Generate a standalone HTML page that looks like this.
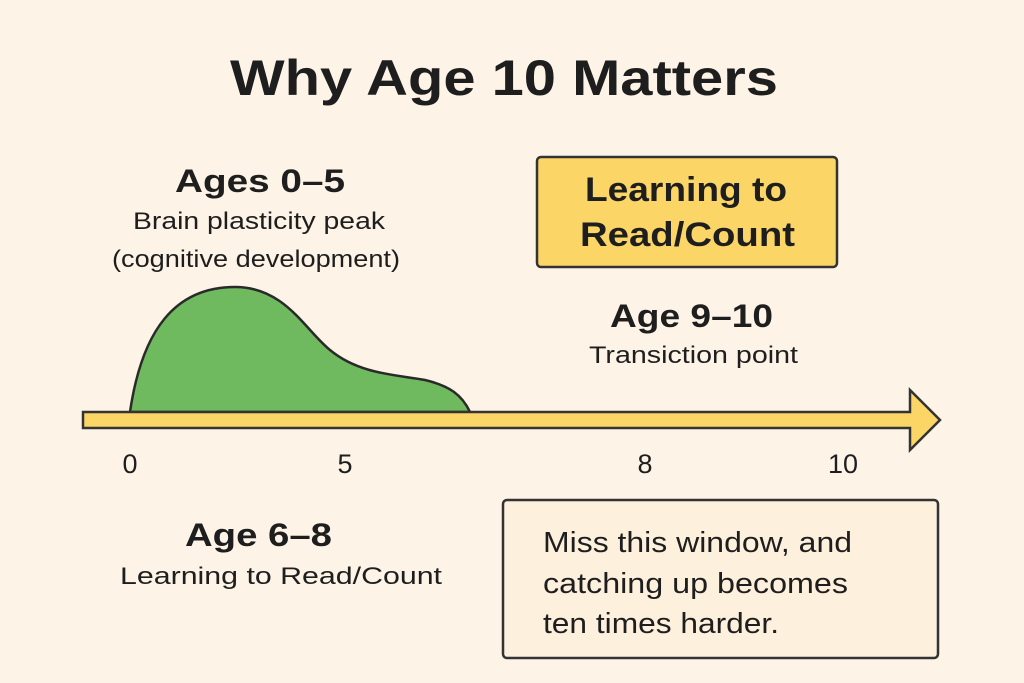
<!DOCTYPE html>
<html><head><meta charset="utf-8"><style>
html,body{margin:0;padding:0;background:#fdf4e7;}
svg{display:block;}
text{font-family:"Liberation Sans",sans-serif;fill:#1e1e1e;}
.b{font-weight:bold;}
</style></head><body>
<svg width="1024" height="683" viewBox="0 0 1024 683" xmlns="http://www.w3.org/2000/svg">
<rect width="1024" height="683" fill="#fdf4e7"/>
<text x="230" y="95" class="b" font-size="50" textLength="548" lengthAdjust="spacingAndGlyphs">Why Age 10 Matters</text>
<text x="175" y="192" class="b" font-size="32" textLength="170" lengthAdjust="spacingAndGlyphs">Ages 0–5</text>
<text x="133" y="229" font-size="24" textLength="252" lengthAdjust="spacingAndGlyphs">Brain plasticity peak</text>
<text x="112" y="267" font-size="24" textLength="288" lengthAdjust="spacingAndGlyphs">(cognitive development)</text>
<rect x="537" y="157" width="300" height="110" rx="4" fill="#fbd566" stroke="#333" stroke-width="2.5"/>
<text x="585" y="201" class="b" font-size="34" textLength="202" lengthAdjust="spacingAndGlyphs">Learning to</text>
<text x="580" y="246" class="b" font-size="34" textLength="215" lengthAdjust="spacingAndGlyphs">Read/Count</text>
<text x="610" y="327" class="b" font-size="32" textLength="163" lengthAdjust="spacingAndGlyphs">Age 9–10</text>
<text x="589" y="363" font-size="24" textLength="209" lengthAdjust="spacingAndGlyphs">Transiction point</text>
<path d="M130 412 C142 330 175 287 235 287 C285 287 305 330 330 350 C360 375 400 375 425 380 C450 386 462 395 470 412 Z" fill="#6fba5e" stroke="#2a2a2a" stroke-width="2.5"/>
<path d="M83 412 L910 412 L910 390 L940 420 L910 450 L910 428 L83 428 Z" fill="#fbd566" stroke="#333" stroke-width="2.5"/>
<text x="130" y="473" text-anchor="middle" font-size="27">0</text>
<text x="345" y="473" text-anchor="middle" font-size="27">5</text>
<text x="645" y="473" text-anchor="middle" font-size="27">8</text>
<text x="843" y="473" text-anchor="middle" font-size="27">10</text>
<text x="185" y="546" class="b" font-size="32" textLength="147" lengthAdjust="spacingAndGlyphs">Age 6–8</text>
<text x="120" y="584" font-size="24" textLength="322" lengthAdjust="spacingAndGlyphs">Learning to Read/Count</text>
<rect x="503" y="500" width="435" height="158" rx="4" fill="#fdf0dc" stroke="#333" stroke-width="2.5"/>
<text x="543" y="552" font-size="29" textLength="309" lengthAdjust="spacingAndGlyphs">Miss this window, and</text>
<text x="543" y="593" font-size="29" textLength="305" lengthAdjust="spacingAndGlyphs">catching up becomes</text>
<text x="543" y="633" font-size="29" textLength="236" lengthAdjust="spacingAndGlyphs">ten times harder.</text>
</svg>
</body></html>
